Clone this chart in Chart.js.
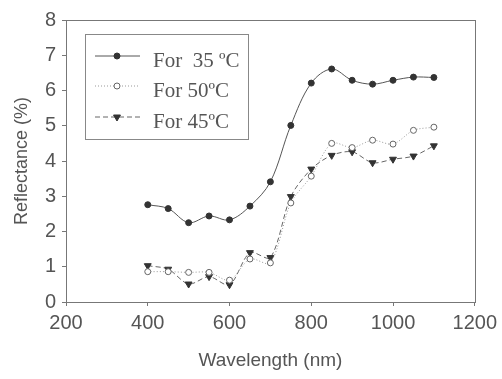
<!DOCTYPE html>
<html><head><meta charset="utf-8">
<script src="https://cdn.jsdelivr.net/npm/chart.js@4/dist/chart.umd.min.js"></script>
<style>html,body{margin:0;padding:0;background:#fff}#wrap{width:502px;height:379px;position:relative}</style>
</head><body><div id="wrap"><canvas id="c" width="502" height="379"></canvas></div>
<script>
const wavelengths = [400,450,500,550,600,650,700,750,800,850,900,950,1000,1050,1100];
const r35 = [2.76,2.65,2.25,2.44,2.33,2.72,3.41,5.01,6.21,6.61,6.29,6.18,6.29,6.38,6.37];
const r50 = [0.86,0.86,0.84,0.84,0.62,1.22,1.11,2.81,3.57,4.50,4.38,4.59,4.48,4.87,4.96];
const r45 = [1.03,0.93,0.51,0.72,0.49,1.40,1.26,2.99,3.77,4.16,4.26,3.95,4.05,4.14,4.43];
const seriesLabels = ['For  35 \u00BAC','For 50\u00BAC','For 45\u00BAC'];
const xTicks = [200,400,600,800,1000,1200];
const yTicks = [0,1,2,3,4,5,6,7,8];

const pts = arr => wavelengths.map((w,i)=>({x:w,y:arr[i]}));

const frame = {
  id:'frame',
  afterDatasetsDraw(chart){
    const {ctx, chartArea:a} = chart;
    ctx.save();
    ctx.strokeStyle='#777'; ctx.lineWidth=1;
    ctx.strokeRect(Math.round(a.left)+0.5, Math.round(a.top)+0.5, Math.round(a.right-a.left), Math.round(a.bottom-a.top));
    ctx.restore();
  }
};

const boxLegend = {
  id:'boxLegend',
  afterDraw(chart){
    const ctx = chart.ctx;
    const bx=85, by=34, bw=163, bh=105;
    ctx.save();
    ctx.fillStyle='#fff';
    ctx.fillRect(bx,by,bw,bh);
    ctx.strokeStyle='#888'; ctx.lineWidth=1;
    ctx.strokeRect(bx+0.5,by+0.5,bw,bh);
    const rows=[56,86,117];
    chart.data.datasets.forEach((ds,i)=>{
      const y=rows[i];
      ctx.strokeStyle=ds.borderColor; ctx.lineWidth=ds.borderWidth;
      ctx.setLineDash(ds.borderDash||[]);
      ctx.beginPath(); ctx.moveTo(95,y); ctx.lineTo(140,y); ctx.stroke();
      ctx.setLineDash([]);
      ctx.fillStyle=ds.pointBackgroundColor; ctx.strokeStyle=ds.pointBorderColor;
      Chart.helpers.drawPoint(ctx,{pointStyle:ds.pointStyle,rotation:ds.pointRotation||0,radius:ds.pointRadius,borderWidth:1},117,y);
      ctx.fillStyle='#555';
      ctx.font='21px "Liberation Serif"';
      ctx.textBaseline='middle';
      ctx.fillText(ds.label,153,y+5);
    });
    ctx.restore();
  }
};

new Chart(document.getElementById('c'),{
  type:'line',
  data:{datasets:[
    {label:seriesLabels[0],data:pts(r35),borderColor:'#555',borderWidth:1,tension:0.35,
     pointStyle:'circle',pointRadius:3,pointBackgroundColor:'#333',pointBorderColor:'#333'},
    {label:seriesLabels[1],data:pts(r50),borderColor:'#999',borderWidth:1,borderDash:[1,2],tension:0.3,
     pointStyle:'circle',pointRadius:3,pointBackgroundColor:'#fff',pointBorderColor:'#666'},
    {label:seriesLabels[2],data:pts(r45),borderColor:'#666',borderWidth:1,borderDash:[5,3],tension:0.3,
     pointStyle:'triangle',pointRotation:180,pointRadius:4,pointBackgroundColor:'#333',pointBorderColor:'#333'}
  ]},
  options:{
    responsive:false,animation:false,devicePixelRatio:1,
    layout:{padding:{top:20,right:25,left:0,bottom:0}},
    plugins:{legend:{display:false},tooltip:{enabled:false}},
    scales:{
      x:{type:'linear',min:200,max:1200,
        afterBuildTicks:s=>{s.ticks=xTicks.map(v=>({value:v}));},
        afterFit:s=>{s.height=77;},
        ticks:{font:{family:'"Liberation Sans"',size:20},color:'#555',padding:5,maxRotation:0,callback:v=>String(v)},
        grid:{display:true,drawOnChartArea:false,tickLength:4,color:'#777'},
        border:{color:'#777'},
        title:{display:true,text:'Wavelength (nm)',font:{family:'"Liberation Sans"',size:19},color:'#555',padding:{top:4,bottom:7}}
      },
      y:{min:0,max:8,
        afterBuildTicks:s=>{s.ticks=yTicks.map(v=>({value:v}));},
        afterFit:s=>{s.width=66;},
        ticks:{font:{family:'"Liberation Sans"',size:20},color:'#555',padding:6,callback:v=>String(v)},
        grid:{display:true,drawOnChartArea:false,tickLength:4,color:'#777'},
        border:{color:'#777'},
        title:{display:true,text:'Reflectance (%)',font:{family:'"Liberation Sans"',size:18},color:'#555',padding:{top:11,bottom:0}}
      }
    }
  },
  plugins:[frame,boxLegend]
});
</script></body></html>
